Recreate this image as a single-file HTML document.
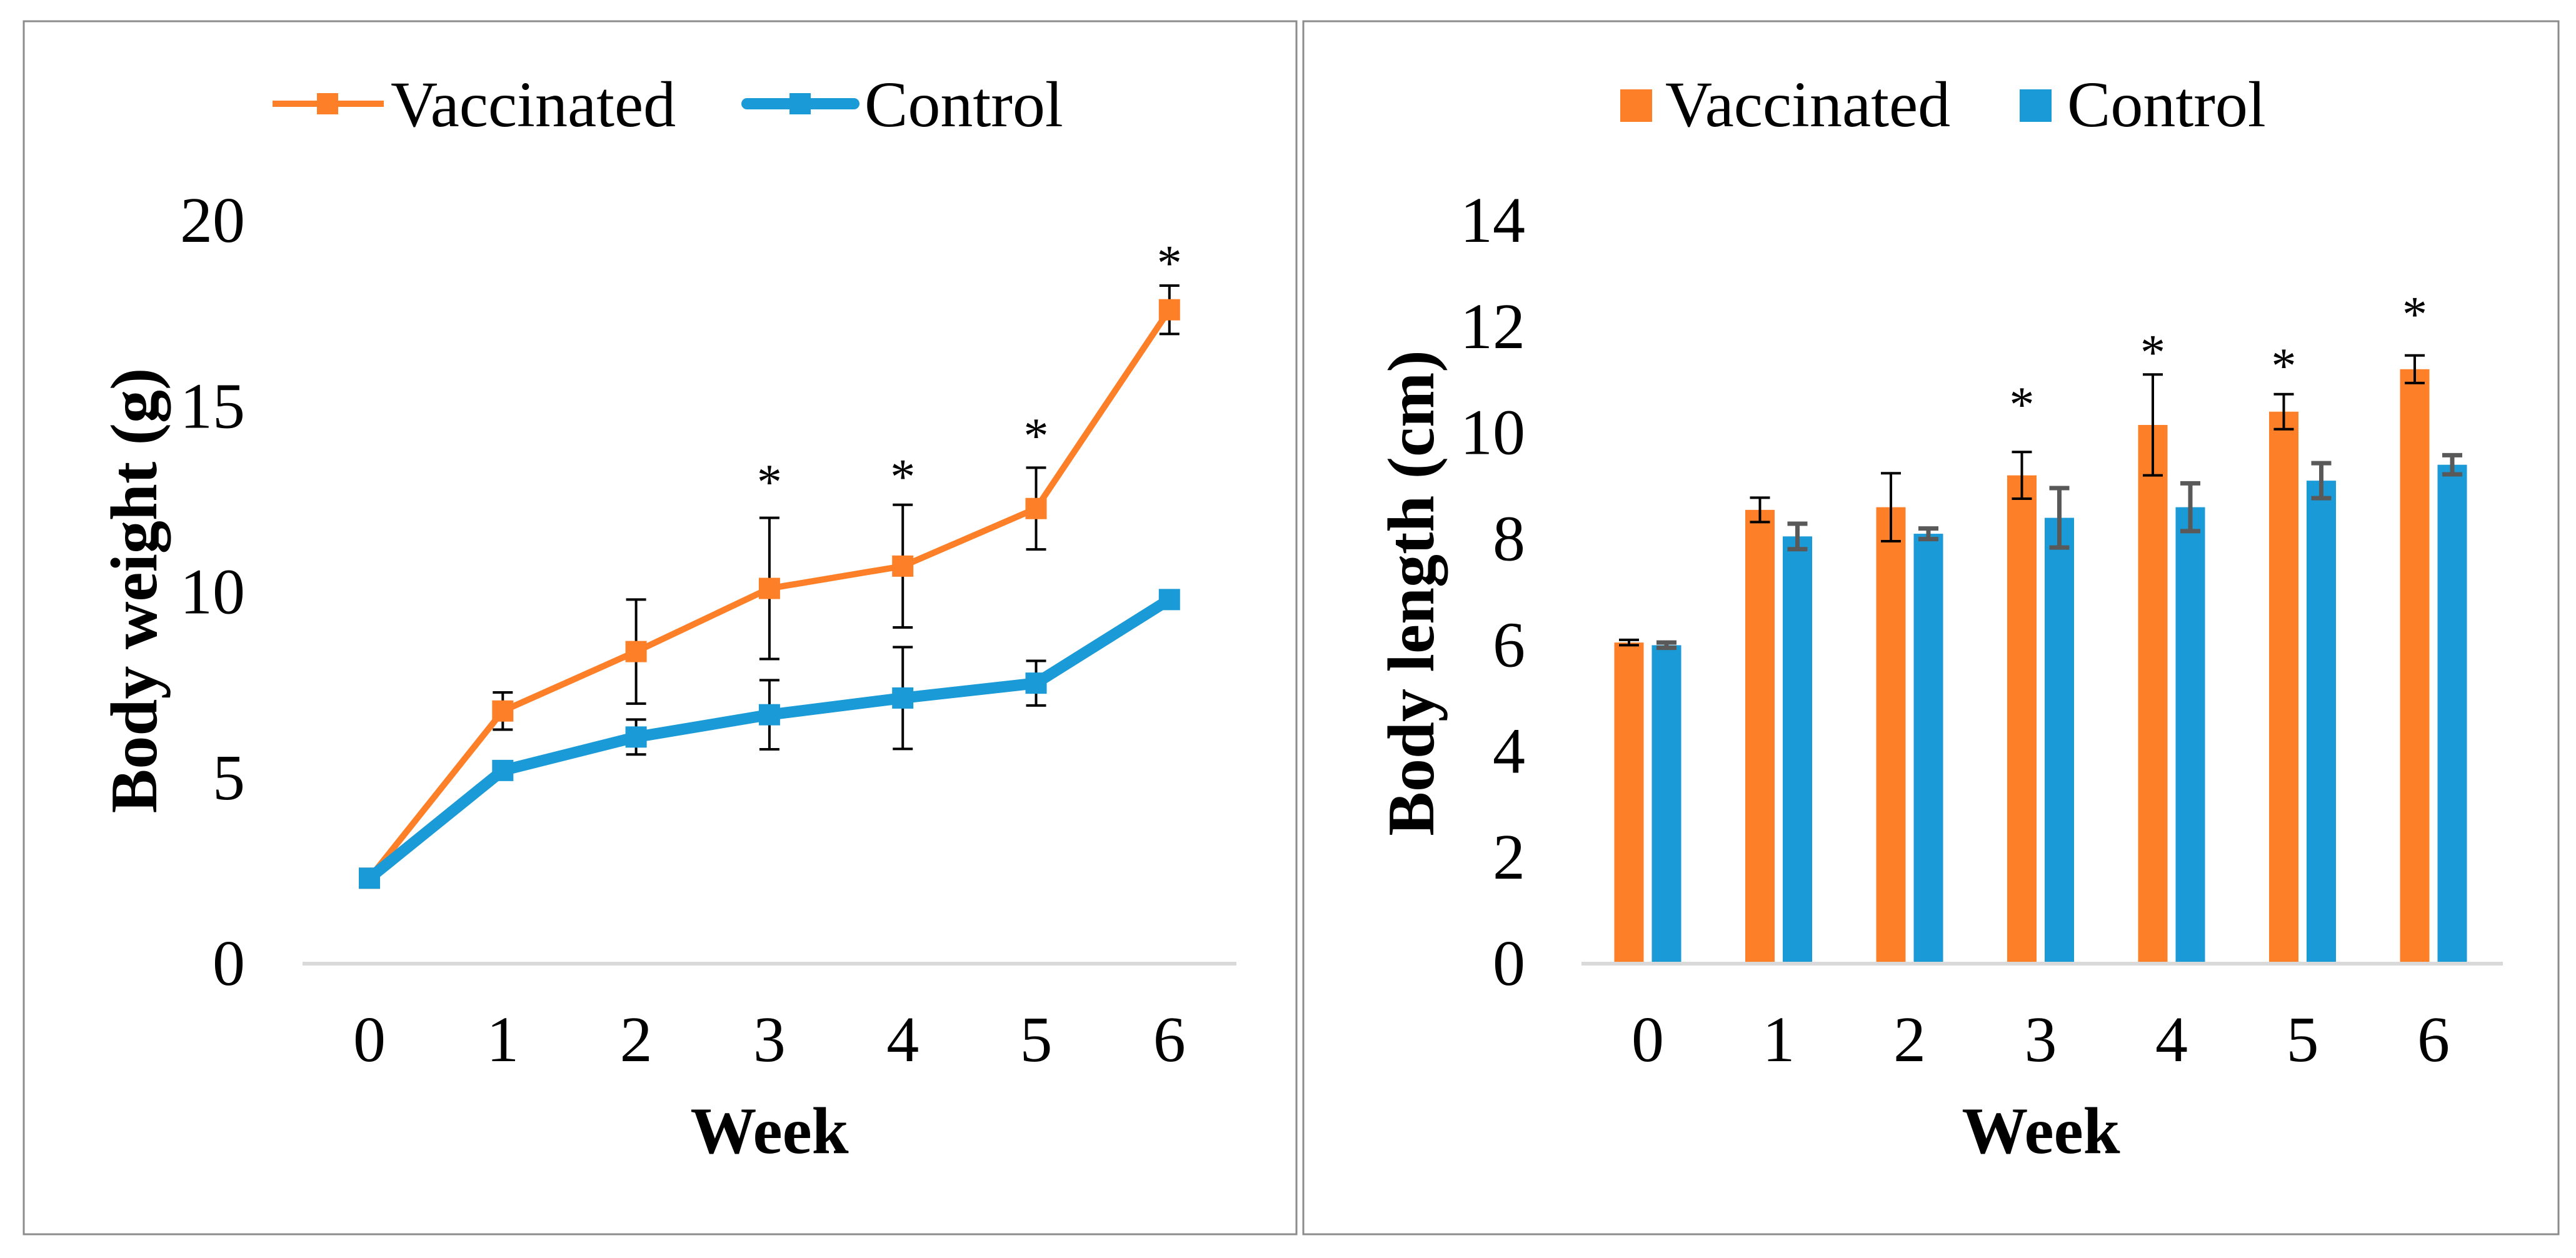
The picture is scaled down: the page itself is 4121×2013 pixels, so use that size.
<!DOCTYPE html>
<html><head><meta charset="utf-8"><style>
html,body{margin:0;padding:0;background:#fff;}
svg{display:block;font-family:"Liberation Serif",serif;}
</style></head><body>
<svg id="fig" width="4121" height="2013" viewBox="0 0 4121 2013" xmlns="http://www.w3.org/2000/svg">
<rect x="0" y="0" width="4121" height="2013" fill="#fff"/>
<rect x="38" y="34" width="2036" height="1941" fill="none" stroke="#8c8c8c" stroke-width="3"/>
<rect x="2085" y="34" width="2008" height="1941" fill="none" stroke="#8c8c8c" stroke-width="3"/>
<g id="left"></g>
<g id="right"></g>
</svg>
<script>
const weeks = ["0","1","2","3","4","5","6"];
const weightVacc = [2.3, 6.8, 8.4, 10.1, 10.7, 12.25, 17.6];
const weightVaccErr = [0.1, 0.5, 1.4, 1.9, 1.65, 1.1, 0.65];
const weightCtrl = [2.3, 5.2, 6.1, 6.7, 7.15, 7.55, 9.8];
const weightCtrlErr = [0.1, 0.15, 0.47, 0.93, 1.37, 0.6, 0.15];
const weightStars = [null, null, null, 13.15, 13.3, 14.4, 19.05];
const weightTicks = [0, 5, 10, 15, 20];
const lengthVacc = [6.05, 8.55, 8.6, 9.2, 10.15, 10.4, 11.2];
const lengthVaccErr = [0.05, 0.23, 0.64, 0.44, 0.95, 0.33, 0.26];
const lengthCtrl = [6.0, 8.05, 8.1, 8.4, 8.6, 9.1, 9.4];
const lengthCtrlErr = [0.05, 0.24, 0.1, 0.56, 0.45, 0.33, 0.18];
const lengthStars = [null, null, null, 10.67, 11.65, 11.4, 12.37];
const lengthTicks = [0, 2, 4, 6, 8, 10, 12, 14];

const NS = "http://www.w3.org/2000/svg";
function mk(parent, tag, attrs, text) {
  const e = document.createElementNS(NS, tag);
  for (const k in attrs) e.setAttribute(k, attrs[k]);
  if (text !== undefined) e.textContent = text;
  parent.appendChild(e);
  return e;
}
const ORANGE = "#fd7f27", BLUE = "#1a9ad6";

// ---------- LEFT: line chart ----------
(function(){
  const g = document.getElementById('left');
  const x = i => 591 + i * 213.3;
  const y = v => 1542 - v * (1542 - 353) / 20;
  let e;
  e = mk(g, 'line', {x1:484, x2:1978, y1:1542, y2:1542, stroke:'#d9d9d9', 'stroke-width':6});
  
  
  weightTicks.forEach(t => {
    e = mk(g, 'text', {x:392, y:y(t)+34, 'font-size':104, 'text-anchor':'end', fill:'#000'}, String(t));
    
    
  });
  weeks.forEach((w, i) => {
    e = mk(g, 'text', {x:x(i), y:1698, 'font-size':104, 'text-anchor':'middle', fill:'#000'}, w);
    
    
  });
  e = mk(g, 'text', {x:1231, y:1845, 'font-size':106, 'font-weight':'bold', 'text-anchor':'middle'}, 'Week');
  
  
  e = mk(g, 'text', {x:0, y:0, 'font-size':106, 'font-weight':'bold', 'text-anchor':'middle', transform:'translate(250,945) rotate(-90)'}, 'Body weight (g)');
  
  

  // error bars
  function errs(vals, errv, name) {
    vals.forEach((v, i) => {
      const eg = mk(g, 'g', {stroke:'#000', 'stroke-width':4});
      
      
      mk(eg, 'line', {x1:x(i), x2:x(i), y1:y(v-errv[i]), y2:y(v+errv[i])});
      mk(eg, 'line', {x1:x(i)-16, x2:x(i)+16, y1:y(v-errv[i]), y2:y(v-errv[i])});
      mk(eg, 'line', {x1:x(i)-16, x2:x(i)+16, y1:y(v+errv[i]), y2:y(v+errv[i])});
    });
  }
  errs(weightVacc, weightVaccErr, 'vaccinated-error-bar');
  errs(weightCtrl, weightCtrlErr, 'control-error-bar');

  function series(vals, color, w, size, name) {
    const pts = vals.map((v, i) => x(i) + ',' + y(v)).join(' ');
    e = mk(g, 'polyline', {points:pts, fill:'none', stroke:color, 'stroke-width':w, 'stroke-linejoin':'round'});
    
    
    vals.forEach((v, i) => {
      e = mk(g, 'rect', {x:x(i)-size/2, y:y(v)-size/2, width:size, height:size, fill:color});
      
      
    });
  }
  series(weightVacc, ORANGE, 10, 34, 'vaccinated');
  series(weightCtrl, BLUE, 18, 34, 'control');

  weightStars.forEach((s, i) => {
    if (s === null) return;
    e = mk(g, 'text', {x:x(i), y:y(s)+38, 'font-size':80, 'text-anchor':'middle'}, '*');
    
    
  });

  // legend
  const lg = mk(g, 'g', {});
  
  
  e = mk(lg, 'line', {x1:436, x2:614, y1:166, y2:166, stroke:ORANGE, 'stroke-width':10});
  
  
  mk(lg, 'rect', {x:507, y:149, width:34, height:34, fill:ORANGE});
  e = mk(lg, 'text', {x:625, y:202, 'font-size':104}, 'Vaccinated');
  
  
  e = mk(lg, 'line', {x1:1195, x2:1366, y1:166, y2:166, stroke:BLUE, 'stroke-width':18, 'stroke-linecap':'round'});
  
  
  mk(lg, 'rect', {x:1263, y:149, width:34, height:34, fill:BLUE});
  e = mk(lg, 'text', {x:1383, y:202, 'font-size':104}, 'Control');
  
  
})();

// ---------- RIGHT: bar chart ----------
(function(){
  const g = document.getElementById('right');
  const x = i => 2636 + i * 209.5;
  const y = v => 1542 - v * (1542 - 353) / 14;
  const bw = 47, off = 30;
  let e;
  lengthTicks.forEach(t => {
    e = mk(g, 'text', {x:2440, y:y(t)+34, 'font-size':104, 'text-anchor':'end'}, String(t));
    
    
  });
  weeks.forEach((w, i) => {
    e = mk(g, 'text', {x:x(i), y:1698, 'font-size':104, 'text-anchor':'middle'}, w);
    
    
  });
  e = mk(g, 'text', {x:3265, y:1845, 'font-size':106, 'font-weight':'bold', 'text-anchor':'middle'}, 'Week');
  
  
  e = mk(g, 'text', {x:0, y:0, 'font-size':106, 'font-weight':'bold', 'text-anchor':'middle', transform:'translate(2293,949) rotate(-90)'}, 'Body length (cm)');
  
  

  lengthVacc.forEach((v, i) => {
    e = mk(g, 'rect', {x:x(i)-off-bw/2, y:y(v), width:bw, height:y(0)-y(v), fill:ORANGE});
    
    
  });
  lengthCtrl.forEach((v, i) => {
    e = mk(g, 'rect', {x:x(i)+off-bw/2, y:y(v), width:bw, height:y(0)-y(v), fill:BLUE});
    
    
  });
  e = mk(g, 'line', {x1:2530, x2:4004, y1:1542, y2:1542, stroke:'#d9d9d9', 'stroke-width':6});
  
  

  function errs(vals, errv, dx, color, sw, name) {
    vals.forEach((v, i) => {
      const cx = x(i) + dx;
      const eg = mk(g, 'g', {stroke:color, 'stroke-width':sw});
      
      
      mk(eg, 'line', {x1:cx, x2:cx, y1:y(v-errv[i]), y2:y(v+errv[i])});
      mk(eg, 'line', {x1:cx-16, x2:cx+16, y1:y(v-errv[i]), y2:y(v-errv[i])});
      mk(eg, 'line', {x1:cx-16, x2:cx+16, y1:y(v+errv[i]), y2:y(v+errv[i])});
    });
  }
  errs(lengthVacc, lengthVaccErr, -off, '#000', 4, 'vaccinated-error-bar');
  errs(lengthCtrl, lengthCtrlErr, off, '#595959', 7, 'control-error-bar');

  lengthStars.forEach((s, i) => {
    if (s === null) return;
    e = mk(g, 'text', {x:x(i)-off, y:y(s)+38, 'font-size':80, 'text-anchor':'middle'}, '*');
    
    
  });

  const lg = mk(g, 'g', {});
  
  
  e = mk(lg, 'rect', {x:2592, y:143, width:51, height:52, fill:ORANGE});
  
  
  e = mk(lg, 'text', {x:2664, y:202, 'font-size':104}, 'Vaccinated');
  
  
  e = mk(lg, 'rect', {x:3231, y:143, width:51, height:52, fill:BLUE});
  
  
  e = mk(lg, 'text', {x:3307, y:202, 'font-size':104}, 'Control');
  
  
})();
</script>
</body></html>
